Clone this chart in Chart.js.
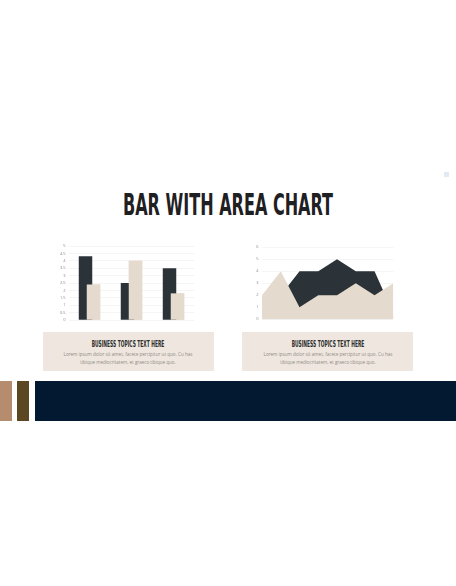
<!DOCTYPE html>
<html><head><meta charset="utf-8">
<script src="https://cdn.jsdelivr.net/npm/chart.js@4.4.1/dist/chart.umd.min.js"></script>
<style>
html,body{margin:0;padding:0;background:#fff;width:456px;height:586px;overflow:hidden}
body{position:relative}
.abs{position:absolute}
.fit{position:absolute;white-space:nowrap;transform-origin:0 0}
#title{top:189px;font-family:"Liberation Sans Narrow","DejaVu Sans Condensed",sans-serif;font-weight:bold;font-size:31px;line-height:31px;color:#1f2022}
.head{font-family:"Liberation Sans Narrow","DejaVu Sans Condensed",sans-serif;font-weight:bold;font-size:8.4px;line-height:8.4px;color:#2d2d2d}
.body{font-family:"Open Sans",sans-serif;font-size:5px;line-height:8px;color:#8f8a86}
.box{background:#efe7df}
canvas{position:absolute}
</style>
</head><body>
<div class="abs" style="left:444px;top:172px;width:5px;height:5px;background:#e2e9f2"></div>
<div id="title" class="fit" data-w="210" data-cx="228">BAR WITH AREA CHART</div>

<canvas id="barChart" width="170" height="92" style="left:40px;top:236px"></canvas>
<canvas id="areaChart" width="170" height="92" style="left:240px;top:236px"></canvas>

<div class="abs box" style="left:43px;top:332px;width:171px;height:39px"></div>
<div class="abs box" style="left:242px;top:332px;width:171px;height:39px"></div>

<div class="fit head" style="top:339.6px" data-w="73" data-cx="128.3">BUSINESS TOPICS TEXT HERE</div>
<div class="fit body" style="top:349.7px" data-w="128.7" data-cx="128.3">Lorem ipsum dolor sit amet, facete percipitur ut quo. Cu has</div>
<div class="fit body" style="top:357.7px" data-w="95" data-cx="128.3">tibique mediocritatem, et graeco tibique quo.</div>

<div class="fit head" style="top:339.6px" data-w="73" data-cx="327.5">BUSINESS TOPICS TEXT HERE</div>
<div class="fit body" style="top:349.7px" data-w="128.7" data-cx="327.5">Lorem ipsum dolor sit amet, facete percipitur ut quo. Cu has</div>
<div class="fit body" style="top:357.7px" data-w="95" data-cx="327.5">tibique mediocritatem, et graeco tibique quo.</div>

<div class="abs" style="left:0;top:381px;width:12.3px;height:40px;background:#b58c6e"></div>
<div class="abs" style="left:17.3px;top:381px;width:12px;height:40px;background:#5b4822"></div>
<div class="abs" style="left:35px;top:381px;width:421px;height:40px;background:#021931"></div>

<script>
// ---- data ----
const barCategories = ['Category 1', 'Category 2', 'Category 3'];
const barSeriesDark = [4.3, 2.5, 3.5];
const barSeriesLight = [2.4, 4.0, 1.8];
const barAxisMax = 5;
const barAxisStep = 0.5;

const areaCategories = ['1', '2', '3', '4', '5', '6', '7', '8'];
const areaSeriesLight = [2, 4, 1, 2, 2, 3, 2, 3];
const areaSeriesDark = [1, 2, 4, 4, 5, 4, 4, 0.5];
const areaAxisMax = 6;
const areaAxisStep = 1;

// ---- text fitting ----
document.querySelectorAll('.fit').forEach(el => {
  const w = el.offsetWidth;
  const s = parseFloat(el.dataset.w) / w;
  el.style.left = el.dataset.cx + 'px';
  el.style.transform = 'scaleX(' + s + ') translateX(-50%)';
});

const DARK = '#2b3338';
const LIGHT = '#e5dace';
const GRID = '#eeeeee';
const TICK = '#8a8a8a';

const lightOnTop = {
  id: 'lightOnTop',
  afterDatasetsDraw(chart) {
    chart.getDatasetMeta(1).controller.draw();
  }
};

new Chart(document.getElementById('barChart'), {
  type: 'bar',
  data: {
    labels: barCategories,
    datasets: [
      { label: 'Series 1', data: barSeriesDark, backgroundColor: DARK, borderWidth: 0 },
      { label: 'Series 2', data: barSeriesLight, backgroundColor: LIGHT, borderWidth: 0 }
    ]
  },
  options: {
    responsive: false, animation: false, devicePixelRatio: 1,
    layout: { padding: { left: 15.5, right: 15.5, top: 10, bottom: 8 } },
    categoryPercentage: 0.38,
    barPercentage: 1.69,
    plugins: { legend: { display: false }, tooltip: { enabled: false } },
    scales: {
      x: { display: false },
      y: {
        min: 0, max: barAxisMax,
        border: { display: false },
        grid: { color: GRID, lineWidth: 0.6, drawTicks: false },
        ticks: { stepSize: barAxisStep, autoSkip: false, padding: 3, color: TICK, font: { size: 4, family: 'Open Sans' }, callback: v => String(v) },
        afterFit(scale) { scale.width = 13; }
      }
    }
  },
  plugins: [lightOnTop]
});

new Chart(document.getElementById('areaChart'), {
  type: 'line',
  data: {
    labels: areaCategories,
    datasets: [
      { label: 'Series 1', data: areaSeriesLight, backgroundColor: LIGHT, borderWidth: 0, fill: 'origin', tension: 0, pointRadius: 0, order: 0 },
      { label: 'Series 2', data: areaSeriesDark, backgroundColor: DARK, borderWidth: 0, fill: 'origin', tension: 0, pointRadius: 0, order: 1 }
    ]
  },
  options: {
    responsive: false, animation: false, devicePixelRatio: 1,
    layout: { padding: { left: 12, right: 16.7, top: 11.3, bottom: 8.7 } },
    plugins: { legend: { display: false }, tooltip: { enabled: false } },
    scales: {
      x: { display: false, offset: false },
      y: {
        min: 0, max: areaAxisMax,
        border: { display: false },
        grid: { color: GRID, lineWidth: 0.6, drawTicks: false },
        ticks: { stepSize: areaAxisStep, autoSkip: false, padding: 3.5, color: TICK, font: { size: 4, family: 'Open Sans' }, callback: v => String(v) },
        afterFit(scale) { scale.width = 10; }
      }
    }
  }
});
</script>
</body></html>
